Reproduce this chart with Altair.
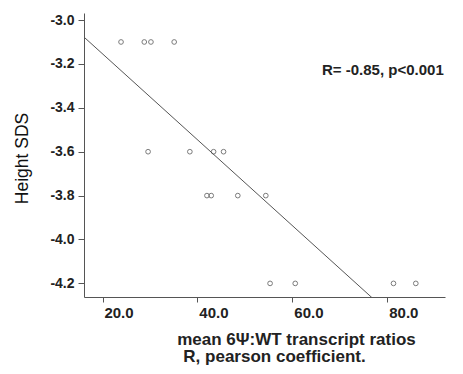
import altair as alt
import pandas as pd

# Data
ratio = [23.9, 28.8, 30.2, 35.1,
         29.6, 38.4, 43.4, 45.5,
         42.0, 42.9, 48.5, 54.4,
         55.3, 60.6, 81.3, 86.0]
height_sds = [-3.1, -3.1, -3.1, -3.1,
              -3.6, -3.6, -3.6, -3.6,
              -3.8, -3.8, -3.8, -3.8,
              -4.2, -4.2, -4.2, -4.2]
x_ticks = [20, 40, 60, 80]
y_ticks = [-3.0, -3.2, -3.4, -3.6, -3.8, -4.0, -4.2]
annotation = ["R= -0.85, p<0.001"]
subtitle = ["R, pearson coefficient."]

df = pd.DataFrame({"x": ratio, "y": height_sds})

FONT = "Liberation Sans"
TXT = "#222222"
AX = "#555555"
XDOM = [16.1, 92.15]
YDOM = [-4.262, -2.968]

xenc = alt.X("x:Q",
             scale=alt.Scale(domain=XDOM, nice=False, zero=False),
             axis=alt.Axis(values=x_ticks, format=".1f", grid=False,
                           title="mean 6\u03a8:WT transcript ratios",
                           titleFont=FONT, titleFontSize=17, titleFontWeight="bold",
                           titleColor=TXT, titleX=212, titleY=47,
                           titleAlign="center", titleBaseline="alphabetic",
                           labelFont=FONT, labelFontSize=15, labelFontWeight="bold",
                           labelColor=TXT, labelPadding=3, labelOffset=16,
                           tickSize=5, tickColor=AX, domainColor=AX))
yenc = alt.Y("y:Q",
             scale=alt.Scale(domain=YDOM, nice=False, zero=False),
             axis=alt.Axis(values=y_ticks, grid=False,
                           labelExpr="replace(format(datum.value, '.1f'), '\u2212', '-')",
                           title="Height SDS",
                           titleFont=FONT, titleFontSize=17.5, titleFontWeight="normal",
                           titleColor="#111111", titleX=-57, titleY=145,
                           titleAlign="center", titleBaseline="alphabetic", titleAngle=270,
                           labelFont=FONT, labelFontSize=14, labelFontWeight="bold",
                           labelColor=TXT, labelPadding=4,
                           tickSize=6, tickColor=AX, domainColor=AX))

base = alt.Chart(df)

points = base.mark_point(shape="circle", filled=False, size=22,
                         stroke="#444444", strokeWidth=1).encode(x=xenc, y=yenc)

fit = base.transform_regression("x", "y", extent=XDOM).mark_line(
    clip=True, color="#555555", strokeWidth=1).encode(x="x:Q", y="y:Q")

ann = alt.Chart(pd.DataFrame({"t": annotation})).mark_text(
    font=FONT, fontSize=15, fontWeight="bold", color=TXT,
    align="left", baseline="alphabetic").encode(
    text="t:N", x=alt.value(238), y=alt.value(62))

sub = alt.Chart(pd.DataFrame({"t": subtitle})).mark_text(
    font=FONT, fontSize=17, fontWeight="bold", color=TXT,
    align="center", baseline="alphabetic").encode(
    text="t:N", x=alt.value(190.5), y=alt.value(349))

chart = alt.layer(fit, points, ann, sub).properties(
    width=361, height=284,
    autosize=alt.AutoSizeParams(type="none"),
    padding={"left": 76, "top": 5, "right": 8, "bottom": 69},
    background="white",
).configure_view(strokeWidth=0)

chart.save("out.html", embed_options={"renderer": "svg", "actions": False})
